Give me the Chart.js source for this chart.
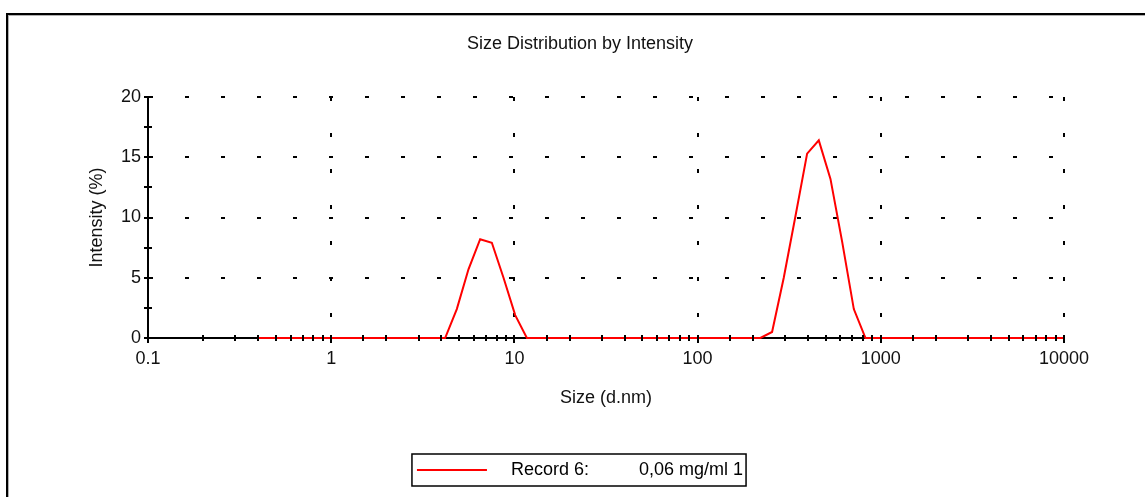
<!DOCTYPE html>
<html>
<head>
<meta charset="utf-8">
<title>Size Distribution by Intensity</title>
<script src="https://cdn.jsdelivr.net/npm/chart.js@4.4.0/dist/chart.umd.min.js"></script>
<style>
  html, body { margin: 0; padding: 0; background: #fff; }
</style>
</head>
<body>
<canvas id="chart" width="1145" height="497"></canvas>
<script>
// size classes (d.nm), the 70 bins of the instrument
const sizes = [
  0.4, 0.4632, 0.5365, 0.6213, 0.7195, 0.8332, 0.9649, 1.117, 1.294, 1.499,
  1.736, 2.010, 2.328, 2.696, 3.122, 3.615, 4.187, 4.849, 5.615, 6.503,
  7.531, 8.721, 10.10, 11.70, 13.54, 15.69, 18.17, 21.04, 24.36, 28.21,
  32.67, 37.84, 43.82, 50.75, 58.77, 68.06, 78.82, 91.28, 105.7, 122.4,
  141.8, 164.2, 190.1, 220.2, 255.0, 295.3, 342.0, 396.1, 458.7, 531.2,
  615.1, 712.4, 825.0, 955.4, 1106, 1281, 1484, 1718, 1990, 2305,
  2669, 3091, 3580, 4145, 4801, 5560, 6439, 7456, 8635, 10000
];
// intensity (%) per size class, Record 6
const intensity = [
  0, 0, 0, 0, 0, 0, 0, 0, 0, 0,
  0, 0, 0, 0, 0, 0, 0, 2.4, 5.7, 8.2,
  7.9, 5.0, 1.9, 0, 0, 0, 0, 0, 0, 0,
  0, 0, 0, 0, 0, 0, 0, 0, 0, 0,
  0, 0, 0, 0, 0.5, 5.0, 10.1, 15.3, 16.4, 13.2,
  8.0, 2.4, 0, 0, 0, 0, 0, 0, 0, 0,
  0, 0, 0, 0, 0, 0, 0, 0, 0, 0
];
const xTickLabels = ['0.1', '1', '10', '100', '1000', '10000'];
const yTickLabels = ['0', '5', '10', '15', '20'];
const recordName = 'Record 6:';
const recordSample = '0,06 mg/ml 1';

Chart.defaults.font.family = 'Arial, "Liberation Sans", sans-serif';
Chart.defaults.font.size = 18;
Chart.defaults.color = '#111';

function isDecade(v) {
  const l = Math.log10(v);
  return Math.abs(l - Math.round(l)) < 1e-6;
}

// outer frame of the report panel
const frame = {
  id: 'frame',
  beforeDraw(chart) {
    const ctx = chart.ctx;
    ctx.save();
    ctx.fillStyle = '#fff';
    ctx.fillRect(0, 0, chart.width, chart.height);
    ctx.strokeStyle = '#b0b0b0';
    ctx.lineWidth = 1;
    ctx.strokeRect(8.5, 15.5, chart.width + 40, chart.height + 40);
    ctx.strokeStyle = '#000';
    ctx.lineWidth = 2;
    ctx.strokeRect(7, 14, chart.width + 40, chart.height + 40);
    ctx.restore();
  }
};

// small tick marks crossing both axes, drawn over the curve
const axisTicks = {
  id: 'axisTicks',
  afterDatasetsDraw(chart) {
    const { ctx, chartArea, scales: { x, y } } = chart;
    ctx.save();
    ctx.strokeStyle = '#000';
    ctx.lineWidth = 2;
    ctx.beginPath();
    x.ticks.forEach(t => {
      const px = Math.round(x.getPixelForValue(t.value));
      ctx.moveTo(px, chartArea.bottom - 3);
      ctx.lineTo(px, chartArea.bottom + (isDecade(t.value) ? 5 : 3));
    });
    y.ticks.forEach(t => {
      const py = Math.round(y.getPixelForValue(t.value));
      ctx.moveTo(chartArea.left - 4, py);
      ctx.lineTo(chartArea.left + 4, py);
    });
    ctx.stroke();
    ctx.restore();
  }
};

// box around the legend
const legendFrame = {
  id: 'legendFrame',
  afterDraw(chart) {
    const hb = chart.legend && chart.legend.legendHitBoxes[0];
    if (!hb) return;
    const ctx = chart.ctx;
    const cy = hb.top + hb.height / 2;
    ctx.save();
    ctx.strokeStyle = '#000';
    ctx.lineWidth = 1.5;
    ctx.strokeRect(hb.left - 5, cy - 16, hb.width + 8, 32);
    ctx.restore();
  }
};

new Chart(document.getElementById('chart'), {
  type: 'line',
  data: {
    datasets: [{
      label: recordName,
      data: sizes.map((s, i) => ({ x: s, y: intensity[i] })),
      borderColor: '#ff0000',
      backgroundColor: '#ff0000',
      borderWidth: 2,
      pointRadius: 0,
      tension: 0,
      fill: false,
      clip: 4
    }]
  },
  options: {
    responsive: false,
    animation: false,
    devicePixelRatio: 1,
    layout: { padding: { top: 33.2, left: 15, right: 0, bottom: 8 } },
    plugins: {
      title: {
        display: true,
        text: 'Size Distribution by Intensity',
        color: '#111',
        font: { size: 18, weight: 'normal' },
        padding: { top: 0, bottom: 42.2 }
      },
      legend: {
        position: 'bottom',
        labels: {
          boxWidth: 70,
          boxHeight: 0,
          padding: 10,
          color: '#111',
          generateLabels: () => [{
            text: '   ' + recordName + '          ' + recordSample,
            fillStyle: '#ff0000',
            strokeStyle: '#ff0000',
            lineWidth: 2,
            hidden: false,
            datasetIndex: 0
          }]
        }
      },
      tooltip: { enabled: false }
    },
    scales: {
      x: {
        type: 'logarithmic',
        min: 0.1,
        max: 10000,
        ticks: {
          autoSkip: false,
          maxRotation: 0,
          padding: 10,
          callback: v => isDecade(v) ? xTickLabels[Math.round(Math.log10(v)) + 1] : ''
        },
        grid: {
          drawTicks: false,
          lineWidth: 2,
          color: c => (c.tick && isDecade(c.tick.value) && c.tick.value > 0.11) ? '#000' : 'rgba(0,0,0,0)'
        },
        border: { display: true, color: '#000', width: 2, dash: [4, 32], dashOffset: 0, z: -1 },
        title: {
          display: true,
          text: 'Size (d.nm)',
          color: '#111',
          padding: { top: 0, bottom: 42.5 }
        },
        afterFit(scale) {
          scale.height = 113;
          scale.paddingRight = 81;
        }
      },
      y: {
        min: 0,
        max: 20,
        ticks: {
          stepSize: 2.5,
          autoSkip: false,
          padding: 7,
          callback: v => (v % 5 === 0) ? yTickLabels[v / 5] : ''
        },
        grid: {
          drawTicks: false,
          lineWidth: 2,
          color: c => (c.tick && c.tick.value % 5 === 0 && c.tick.value > 0) ? '#000' : 'rgba(0,0,0,0)'
        },
        border: { display: true, color: '#000', width: 2, dash: [4, 32], dashOffset: 0, z: -1 },
        title: {
          display: true,
          text: 'Intensity (%)',
          color: '#111',
          padding: { top: 71, bottom: 0 }
        },
        afterFit(scale) {
          scale.width = 133;
        }
      }
    }
  },
  plugins: [frame, axisTicks, legendFrame]
});
</script>
</body>
</html>
